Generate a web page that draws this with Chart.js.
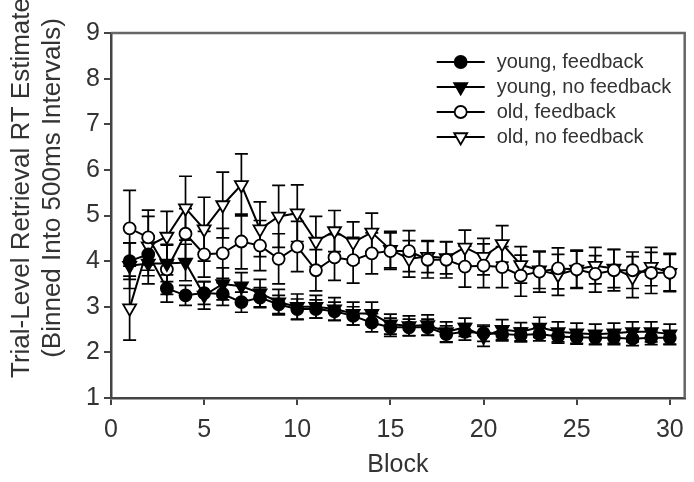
<!DOCTYPE html>
<html>
<head>
<meta charset="utf-8">
<script src="https://cdn.jsdelivr.net/npm/chart.js@4.4.1/dist/chart.umd.min.js"></script>
<style>
  html, body { margin: 0; padding: 0; background: #fff; }
</style>
</head>
<body>
<canvas id="grafico" width="694" height="482"></canvas>
<script>
// Blocos 1..30
const blocos = [1, 2, 3, 4, 5, 6, 7, 8, 9, 10, 11, 12, 13, 14, 15,
                16, 17, 18, 19, 20, 21, 22, 23, 24, 25, 26, 27, 28, 29, 30];
const ticksX = [0, 5, 10, 15, 20, 25, 30];

// Médias por bloco
const jovemComFeedback = [4.00, 4.15, 3.40, 3.25, 3.30, 3.28, 3.10, 3.20, 3.05, 2.95,
                          2.95, 2.90, 2.80, 2.65, 2.55, 2.55, 2.55, 2.40, 2.45, 2.42,
                          2.40, 2.38, 2.40, 2.35, 2.33, 2.32, 2.32, 2.30, 2.32, 2.32];
const jovemSemFeedback = [3.90, 3.95, 3.95, 3.97, 3.25, 3.50, 3.45, 3.30, 3.10, 3.00,
                          3.00, 2.95, 2.85, 2.85, 2.62, 2.58, 2.60, 2.45, 2.55, 2.35,
                          2.50, 2.45, 2.55, 2.45, 2.42, 2.40, 2.42, 2.45, 2.45, 2.40];
const idosoComFeedback = [4.72, 4.52, 3.82, 4.60, 4.15, 4.17, 4.43, 4.34, 4.05, 4.32,
                          3.80, 4.08, 4.02, 4.17, 4.22, 4.22, 4.03, 4.03, 3.88, 3.90,
                          3.87, 3.68, 3.77, 3.84, 3.82, 3.72, 3.80, 3.80, 3.74, 3.75];
const idosoSemFeedback = [2.97, 4.33, 4.54, 5.16, 4.70, 5.23, 5.67, 4.70, 4.98, 5.05,
                          4.43, 4.66, 4.41, 4.63, 4.25, 4.05, 4.10, 4.07, 4.30, 4.10,
                          4.38, 3.92, 3.80, 3.70, 3.82, 3.90, 3.84, 3.65, 3.88, 3.75];

// Erro padrão por bloco
const erroJovemCom = [0.40, 0.35, 0.30, 0.22, 0.25, 0.25, 0.22, 0.22, 0.20, 0.22,
                      0.20, 0.20, 0.20, 0.20, 0.20, 0.18, 0.18, 0.18, 0.18, 0.18,
                      0.15, 0.15, 0.15, 0.15, 0.15, 0.15, 0.15, 0.15, 0.15, 0.15];
const erroJovemSem = [0.50, 0.45, 0.40, 0.40, 0.30, 0.35, 0.30, 0.30, 0.28, 0.28,
                      0.25, 0.25, 0.25, 0.25, 0.22, 0.22, 0.22, 0.22, 0.20, 0.22,
                      0.22, 0.20, 0.22, 0.22, 0.22, 0.22, 0.22, 0.22, 0.22, 0.22];
const erroIdosoCom = [0.83, 0.60, 0.55, 0.55, 0.50, 0.55, 0.60, 0.55, 0.55, 0.55,
                      0.45, 0.50, 0.50, 0.45, 0.40, 0.45, 0.40, 0.40, 0.45, 0.48,
                      0.45, 0.45, 0.45, 0.45, 0.40, 0.40, 0.45, 0.40, 0.45, 0.42];
const erroIdosoSem = [0.70, 0.65, 0.55, 0.70, 0.70, 0.72, 0.68, 0.60, 0.68, 0.62,
                      0.55, 0.45, 0.45, 0.42, 0.40, 0.40, 0.35, 0.35, 0.38, 0.40,
                      0.40, 0.40, 0.40, 0.45, 0.42, 0.40, 0.42, 0.45, 0.42, 0.40];

const tituloY = ['Trial-Level Retrieval RT Estimate', '(Binned Into 500ms Intervals)'];
const fonte = '"Liberation Sans", Arial, sans-serif';
const corTexto = '#333';

function serie(label, valores, erros, estilo, preenchido) {
    return {
        label: label,
        data: blocos.map((b, i) => ({ x: b, y: valores[i] })),
        erro: erros,
        borderColor: '#000',
        borderWidth: 2,
        pointStyle: estilo,
        pointRotation: estilo === 'triangle' ? 180 : 0,
        pointRadius: estilo === 'triangle' ? 7.5 : 6,
        pointBorderWidth: 1.8,
        pointBorderColor: '#000',
        pointBackgroundColor: preenchido ? '#000' : '#fff',
        fill: false,
        tension: 0
    };
}

// barras de erro desenhadas antes das linhas
const barrasErro = {
    id: 'barrasErro',
    beforeDatasetsDraw(chart) {
        const { ctx, scales: { x, y } } = chart;
        ctx.save();
        ctx.strokeStyle = '#000';
        ctx.lineWidth = 1.7;
        chart.data.datasets.forEach(ds => {
            ds.erro.forEach((e, i) => {
                const px = x.getPixelForValue(blocos[i]);
                const yCima = y.getPixelForValue(ds.data[i].y + e);
                const yBaixo = y.getPixelForValue(ds.data[i].y - e);
                ctx.beginPath();
                ctx.moveTo(px, yCima); ctx.lineTo(px, yBaixo);
                ctx.moveTo(px - 6.5, yCima); ctx.lineTo(px + 6.5, yCima);
                ctx.moveTo(px - 6.5, yBaixo); ctx.lineTo(px + 6.5, yBaixo);
                ctx.stroke();
            });
        });
        ctx.restore();
    }
};

// moldura superior/direita, legenda e título do eixo Y
const extras = {
    id: 'extras',
    afterDraw(chart) {
        const { ctx, chartArea } = chart;
        ctx.save();

        ctx.strokeStyle = '#666';
        ctx.lineWidth = 2.5;
        ctx.beginPath();
        ctx.moveTo(chartArea.left, chartArea.top);
        ctx.lineTo(chartArea.right, chartArea.top);
        ctx.lineTo(chartArea.right, chartArea.bottom);
        ctx.stroke();

        const x0 = chartArea.right - 248;
        ctx.font = '20px ' + fonte;
        ctx.textBaseline = 'middle';
        ctx.textAlign = 'left';
        chart.data.datasets.forEach((ds, i) => {
            const yy = chartArea.top + 29 + i * 25;
            ctx.strokeStyle = '#000';
            ctx.lineWidth = 2;
            ctx.beginPath();
            ctx.moveTo(x0, yy);
            ctx.lineTo(x0 + 48, yy);
            ctx.stroke();
            ctx.fillStyle = ds.pointBackgroundColor;
            ctx.strokeStyle = '#000';
            ctx.lineWidth = ds.pointBorderWidth;
            Chart.helpers.drawPoint(ctx, {
                pointStyle: ds.pointStyle,
                rotation: ds.pointRotation,
                radius: ds.pointRadius,
                borderWidth: ds.pointBorderWidth
            }, x0 + 24, yy);
            ctx.fillStyle = corTexto;
            ctx.fillText(ds.label, x0 + 60, yy);
        });

        ctx.font = '26px ' + fonte;
        ctx.fillStyle = corTexto;
        ctx.textAlign = 'center';
        ctx.translate(0, 188);
        ctx.rotate(-Math.PI / 2);
        ctx.fillText(tituloY[0], 0, 22);
        ctx.fillText(tituloY[1], 0, 53);
        ctx.restore();
    }
};

new Chart(document.getElementById('grafico'), {
    type: 'line',
    data: {
        datasets: [
            serie('young, feedback', jovemComFeedback, erroJovemCom, 'circle', true),
            serie('young, no feedback', jovemSemFeedback, erroJovemSem, 'triangle', true),
            serie('old, feedback', idosoComFeedback, erroIdosoCom, 'circle', false),
            serie('old, no feedback', idosoSemFeedback, erroIdosoSem, 'triangle', false)
        ]
    },
    options: {
        responsive: false,
        animation: false,
        layout: { padding: { top: 33, right: 1, left: 0, bottom: 0 } },
        plugins: {
            legend: { display: false },
            tooltip: { enabled: false }
        },
        scales: {
            x: {
                type: 'linear',
                min: 0,
                max: 30.8,
                afterBuildTicks: scale => { scale.ticks = ticksX.map(v => ({ value: v })); },
                afterFit: scale => { scale.height = 84; },
                grid: { drawOnChartArea: false, drawTicks: true, tickLength: 7, color: '#444', lineWidth: 2 },
                border: { display: true, color: '#444', width: 2.5 },
                ticks: { color: corTexto, font: { family: fonte, size: 25 }, padding: 10, maxRotation: 0 },
                title: {
                    display: true,
                    text: 'Block',
                    color: corTexto,
                    font: { family: fonte, size: 25 },
                    padding: { top: 0, bottom: 2 }
                }
            },
            y: {
                min: 1,
                max: 9,
                afterFit: scale => { scale.width = 111; },
                grid: { drawOnChartArea: false, drawTicks: true, tickLength: 7, color: '#444', lineWidth: 2 },
                border: { display: true, color: '#444', width: 2.5 },
                ticks: { stepSize: 1, color: corTexto, font: { family: fonte, size: 25 }, padding: 4 }
            }
        }
    },
    plugins: [barrasErro, extras]
});
</script>
</body>
</html>
